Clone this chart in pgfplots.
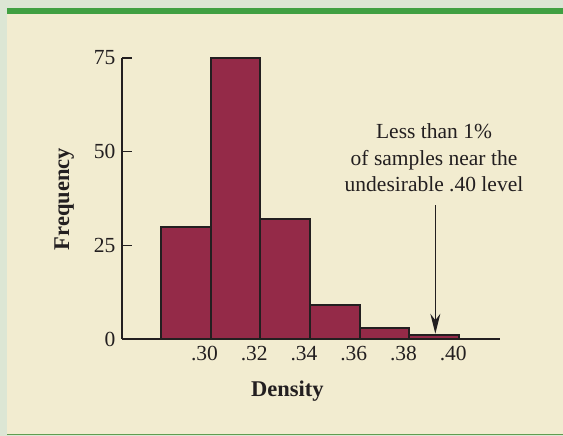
\documentclass[border=0pt]{standalone}
\usepackage{pgfplots}
\pgfplotsset{compat=1.18}
\usepackage{fontspec}
\setmainfont{Liberation Serif}
\usetikzlibrary{arrows.meta}
\definecolor{outerbg}{RGB}{220,230,212}
\definecolor{cream}{RGB}{242,236,208}
\definecolor{framegreen}{RGB}{64,160,66}
\definecolor{linegreen}{RGB}{96,156,80}
\definecolor{barred}{RGB}{148,42,72}
\definecolor{dark}{RGB}{35,31,32}
\newcommand{\txt}{\fontsize{21.5}{26}\selectfont}
\newcommand{\lbl}{\fontsize{22.5}{26}\selectfont\bfseries}
\begin{document}
\begin{tikzpicture}[x=1pt,y=1pt]
% frame
\fill[outerbg] (0,0) rectangle (563,436);
\fill[cream] (7,2) rectangle (563,422);
\fill[framegreen] (7,422) rectangle (563,428);
\fill[linegreen] (7,0.6) rectangle (563,2);

\begin{axis}[
    at={(122pt,97pt)}, anchor=south west,
    scale only axis, width=378pt, height=281pt,
    xmin=0.2644, xmax=0.4164, ymin=0, ymax=75,
    axis x line*=bottom, axis y line*=left,
    axis line style={-, line width=1.5pt, draw=dark},
    xtick={0.30,0.32,0.34,0.36,0.38,0.40},
    xticklabels={.30,.32,.34,.36,.38,.40},
    xtick style={draw=none},
    ytick={0,25,50,75},
    ytick style={line width=1.5pt, draw=dark},
    tick align=inside, major tick length=10pt,
    tick label style={font=\txt, text=dark},
    xticklabel style={xshift=-6pt, yshift=-4pt},
    yticklabel style={xshift=-3pt},
    /pgf/number format/assume math mode=true,
    xlabel={Density}, ylabel={Frequency},
    xlabel style={font=\lbl, text=dark, at={(axis description cs:0.4378,-0.2064)}, anchor=base},
    ylabel style={font=\lbl, text=dark, at={(axis description cs:-0.140,0.498)}, anchor=base},
    clip=false,
]
\addplot[ybar interval, fill=barred, draw=dark, line width=2pt] coordinates {
    (0.28,30) (0.30,75) (0.32,32) (0.34,9) (0.36,3) (0.38,1) (0.40,1)
};
\draw[dark, line width=1.5pt, -{Stealth[length=20pt, width=10pt]}]
    (axis cs:0.3904,35.7) -- (axis cs:0.3904,1.4);
\end{axis}

\node[anchor=base, font=\txt, text=dark, inner sep=0pt] at (434pt,297pt) {Less than 1\%};
\node[anchor=base, font=\txt, text=dark, inner sep=0pt] at (434pt,270pt) {of samples near the};
\node[anchor=base, font=\txt, text=dark, inner sep=0pt] at (434pt,244pt) {undesirable .40 level};

\pgfresetboundingbox
\path (0,0) rectangle (563pt,436pt);
\end{tikzpicture}
\end{document}
